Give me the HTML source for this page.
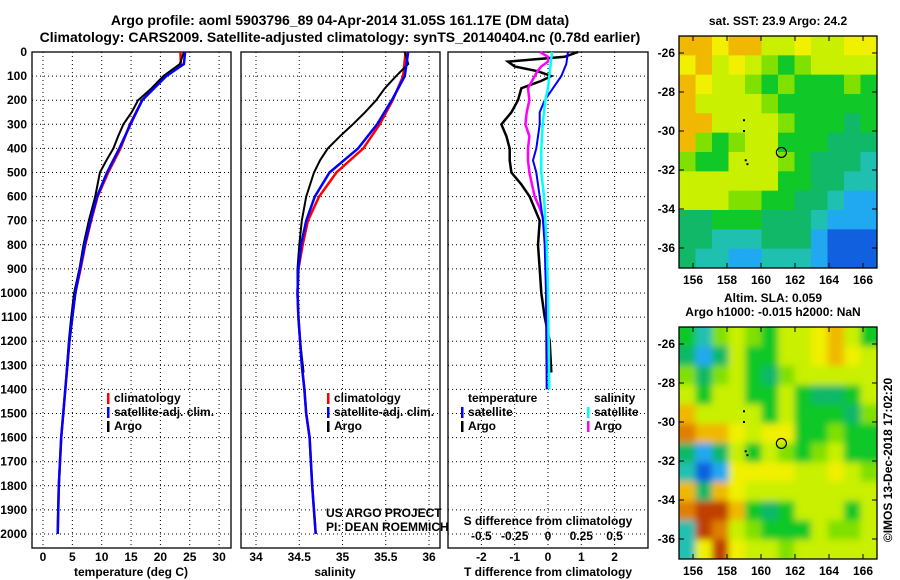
<!DOCTYPE html>
<html><head><meta charset="utf-8">
<style>
html,body{margin:0;padding:0;background:#fff;}
svg{display:block;font-family:"Liberation Sans",sans-serif;}
.b{font-weight:bold;font-size:12px;}
.t{font-weight:bold;font-size:14px;}
</style></head>
<body>
<svg id="s" width="900" height="580" viewBox="0 0 900 580" xmlns="http://www.w3.org/2000/svg">
<text x="340" y="25" text-anchor="middle" class="t">Argo profile: aoml 5903796_89 04-Apr-2014 31.05S 161.17E (DM data)</text>
<text x="340" y="42" text-anchor="middle" class="t">Climatology: CARS2009. Satellite-adjusted climatology: synTS_20140404.nc (0.78d earlier)</text>
<g id="g"></g>
</svg>
<script>
// ---- data ----
const depthTicks=[0,100,200,300,400,500,600,700,800,900,1000,1100,1200,1300,1400,1500,1600,1700,1800,1900,2000];
const tempTicks=[0,5,10,15,20,25,30];
const salTicks=[34,34.5,35,35.5,36];
const tdiffTicks=[-2,-1,0,1,2];
const sdiffTicks=[-0.5,-0.25,0,0.25,0.5];
const sdiffLabels=["-0.5","-0.25","0","0.25","0.5"];
const lonTicks=[156,158,160,162,164,166];
const latTicks=[-26,-28,-30,-32,-34,-36];

const climDepth=[0,50,100,200,300,400,500,600,700,800,900,1000,1200,1400,1600,1800,2000];
const climTemp=[23.4,23.5,20.8,16.9,14.8,13.2,11.1,9.3,8.2,7.2,6.4,5.5,4.5,3.8,3.1,2.7,2.5];
const satTemp=[24.2,24.0,21.0,16.9,14.9,13.0,10.9,9.2,8.1,7.1,6.3,5.5,4.5,3.8,3.1,2.7,2.5];
const salDepth=[0,100,200,300,400,500,600,700,800,900,1000,1100,1200,1300,1400,1500,1600,1800,2000];
const climSal=[35.73,35.70,35.58,35.43,35.24,34.93,34.73,34.60,34.54,34.49,34.48,34.49,34.51,34.53,34.56,34.58,34.62,34.65,34.69];
const satSal=[35.76,35.72,35.57,35.40,35.18,34.85,34.68,34.58,34.52,34.49,34.48,34.49,34.51,34.53,34.56,34.58,34.62,34.65,34.69];
const argoDepth=[0,50,100,150,200,250,300,350,400,450,500,600,700,800,900,1000,1100,1200,1330];
const argoTemp=[24.0,23.3,20.5,18.5,16.2,15.1,13.7,12.8,12.0,10.8,9.7,8.9,7.8,6.9,6.2,5.3,4.8,4.4,4.0];
const argoSal=[35.72,35.76,35.62,35.49,35.39,35.26,35.12,34.97,34.83,34.74,34.67,34.58,34.53,34.50,34.48,34.48,34.49,34.51,34.55];

const tdDepth=[0,20,40,60,80,100,120,150,200,250,300,350,400,450,500,550,600,650,700,800,900,1000,1100,1200,1330];
const tdArgo=[0.9,0.5,-1.2,-1.0,-0.3,0.1,-0.2,-0.8,-0.9,-1.1,-1.4,-1.25,-1.15,-1.15,-1.1,-0.8,-0.55,-0.4,-0.25,-0.3,-0.25,-0.2,-0.1,0.05,0.1];
const sdArgo=[-0.06,0,0,-0.05,-0.08,-0.1,-0.12,-0.15,-0.14,-0.16,-0.17,-0.14,-0.15,-0.15,-0.14,-0.12,-0.1,-0.06,-0.03,-0.02,-0.01,-0.01,0,0,0];
const satDiffDepth=[0,50,100,150,200,250,300,400,450,500,600,700,800,1000,1200,1400];
const tdSat=[0.6,0.55,0.4,0.15,-0.1,-0.25,-0.25,-0.35,-0.45,-0.35,-0.25,-0.15,-0.1,-0.06,-0.05,-0.04];
const sdSat=[0.03,0.02,0.01,0,-0.02,-0.03,-0.04,-0.05,-0.05,-0.05,-0.03,-0.02,-0.01,0,0.005,0.01];

const sstGrid=[
"887886676677","786765456666","876654544454","866665444444","886666544434","854566444333",
"544666543332","666666443322","666554433211","334443332111","332223331000","322112221000"];
const slaGrid=[
"425654667864","313644667876","535643566666","646644643346","866664644435","988767744544",
"313646545644","201777766765","838766666666","9AA843466646","2A9654446556","27A766566666"];
const palette=["#1060e0","#20a8f0","#20c0b0","#10b868","#10c828","#80e000","#c8f000","#f0f000","#f0b800","#e08000","#c04000"];

// ---- helpers ----
const NS="http://www.w3.org/2000/svg";
const G=document.getElementById('g');
function mk(tag,attrs,parent){const e=document.createElementNS(NS,tag);for(const k in attrs)e.setAttribute(k,attrs[k]);(parent||G).appendChild(e);return e;}
const Y0=52,Y1=548;
function yd(d){return Y0+d*0.241;}
function xT(t){return 43+t*5.87;}
function xS(s){return 256+(s-34)*86.5;}
function xTd(t){return 548+t*33.3;}
function xSd(s){return 548+s*133.2;}

function panel(x0,x1,name){
  const r=mk('rect',{x:x0,y:Y0,width:x1-x0,height:Y1-Y0,fill:'none',stroke:'#000','stroke-width':1.3});
  
  
  depthTicks.forEach(d=>{
    const l=mk('line',{x1:x0,x2:x1,y1:yd(d),y2:yd(d),stroke:'#000','stroke-dasharray':'1,3','stroke-width':1});
    
    
  });
}
function vgrid(xs,name){
  xs.forEach(x=>{
    const l=mk('line',{x1:x,x2:x,y1:Y0,y2:Y1,stroke:'#000','stroke-dasharray':'1,3','stroke-width':1});
    
    
  });
}
function text(x,y,s,anchor,cls,name){
  const t=mk('text',{x:x,y:y,'text-anchor':anchor||'middle',class:cls||'b'});t.textContent=s;
  
  
  return t;
}
function line(xs,ys,fx,color,w,name){
  const pts=xs.map((v,i)=>fx(v).toFixed(1)+','+yd(ys[i]).toFixed(1)).join(' ');
  const p=mk('polyline',{points:pts,fill:'none',stroke:color,'stroke-width':w});
  
  
}
function legend(x,y,color,label,name){
  const r=mk('rect',{x:x,y:y-9,width:2.5,height:11,fill:color});
  
  
  text(x+7,y,label,'start','b',name);
}

// ---- panel 1 temperature ----
panel(32,231,'temperature-plot-frame');
vgrid(tempTicks.map(xT),'temperature-gridline');
depthTicks.forEach(d=>text(27,yd(d)+4,String(d),'end','b','depth-tick-label'));
tempTicks.forEach(t=>text(xT(t),561,String(t),'middle','b','temperature-tick-label'));
text(131,576,'temperature (deg C)','middle','b','temperature-axis-title');
line(climTemp,climDepth,xT,'#f00',2.5,'temperature-climatology-line');
line(argoTemp,argoDepth,xT,'#000',2,'temperature-argo-line');
line(satTemp,climDepth,xT,'#00f',2.5,'temperature-satellite-line');
legend(107,402,'#f00','climatology','legend-climatology');
legend(107,416,'#00f','satellite-adj. clim.','legend-satellite');
legend(107,430,'#000','Argo','legend-argo');

// ---- panel 2 salinity ----
panel(241,440,'salinity-plot-frame');
vgrid(salTicks.map(xS),'salinity-gridline');
salTicks.forEach(s=>text(xS(s),561,String(s),'middle','b','salinity-tick-label'));
text(335,576,'salinity','middle','b','salinity-axis-title');
line(climSal,salDepth,xS,'#f00',2.5,'salinity-climatology-line');
line(argoSal,argoDepth,xS,'#000',2,'salinity-argo-line');
line(satSal,salDepth,xS,'#00f',2.5,'salinity-satellite-line');
legend(327,402,'#f00','climatology','legend-climatology-sal');
legend(327,416,'#00f','satellite-adj. clim.','legend-satellite-sal');
legend(327,430,'#000','Argo','legend-argo-sal');
const c1=text(326,517,'US ARGO PROJECT','start','', 'credit-project');c1.setAttribute('font-size','12');
const c2=text(326,531,'PI: DEAN ROEMMICH','start','', 'credit-pi');c2.setAttribute('font-size','12');

// ---- panel 3 differences ----
panel(448,648,'difference-plot-frame');
vgrid(tdiffTicks.map(xTd),'difference-gridline');
tdiffTicks.forEach(t=>text(xTd(t),561,String(t),'middle','b','tdiff-tick-label'));
sdiffTicks.forEach((s,i)=>text(xSd(s),540,sdiffLabels[i],'middle','b','sdiff-tick-label'));
text(548,525,'S difference from climatology','middle','b','sdiff-axis-title');
text(548,576,'T difference from climatology','middle','b','tdiff-axis-title');
line(tdArgo,tdDepth,xTd,'#000',2.5,'tdiff-argo-line');
line(sdArgo,tdDepth,xSd,'#f0f',2.5,'sdiff-argo-line');
line(tdSat,satDiffDepth,xTd,'#00f',2,'tdiff-satellite-line');
line(sdSat,satDiffDepth,xSd,'#0ff',2.5,'sdiff-satellite-line');
text(468,402,'temperature','start','b','legend-temperature-heading');
legend(461,416,'#00f','satellite','legend-tdiff-satellite');
legend(461,430,'#000','Argo','legend-tdiff-argo');
text(594,402,'salinity','start','b','legend-salinity-heading');
legend(587,416,'#0ff','satellite','legend-sdiff-satellite');
legend(587,430,'#f0f','Argo','legend-sdiff-argo');

// ---- maps ----
function mapPanel(top,grid,name,blur){
  const x0=679,x1=877,y0=top,y1=top+232;
  const cols=grid[0].length,rows=grid.length;
  const cw=(x1-x0)/cols,ch=(y1-y0)/rows;
  const clip='clip-'+name;
  const cp=mk('clipPath',{id:clip});mk('rect',{x:x0,y:y0,width:x1-x0,height:y1-y0},cp);
  const g=mk('g',{'clip-path':'url(#'+clip+')'});
  
  
  const inner=mk('g',blur?{filter:'url(#bl)'}:{},g);
  grid.forEach((row,r)=>{for(let c=0;c<cols;c++){
    const v=parseInt(row[c],16);
    const ex=blur?(c===0?-10:0):0, ey=blur?(r===0?-10:0):0;
    const cell=mk('rect',{x:x0+c*cw+ex,y:y0+r*ch+ey,width:cw+0.5-ex+(blur&&c===cols-1?10:0),height:ch+0.5-ey+(blur&&r===rows-1?10:0),fill:palette[v]},inner);
    
    
  }});
  const lonX=l=>693+(l-156)*17;
  const fr=mk('rect',{x:x0,y:y0,width:x1-x0,height:y1-y0,fill:'none',stroke:'#000','stroke-width':1.3});
  
  
  lonTicks.forEach(l=>{mk('line',{x1:lonX(l),x2:lonX(l),y1:y1,y2:y1-5,stroke:'#000'});mk('line',{x1:lonX(l),x2:lonX(l),y1:y0,y2:y0+5,stroke:'#000'});
    text(lonX(l),y1+16,String(l),'middle','b','longitude-tick-label');});
  latTicks.forEach(l=>{const y=y0+17+(-26-l)*19.5;mk('line',{x1:x0,x2:x0+5,y1:y,y2:y,stroke:'#000'});mk('line',{x1:x1,x2:x1-5,y1:y,y2:y,stroke:'#000'});
    text(x0-4,y+4,String(l),'end','b','latitude-tick-label');});
  const cx=lonX(161.2),cy=y0+17+(31.1-26)*19.5;
  const ci=mk('circle',{cx:cx,cy:cy,r:5,fill:'none',stroke:'#000','stroke-width':1.2});
  
  
  [[159,-29.45],[159,-30],[159.1,-31.5],[159.2,-31.7]].forEach(p=>{
    const d=mk('rect',{x:lonX(p[0])-1,y:y0+17+(-26-p[1])*19.5-1,width:2,height:2,fill:'#000'});
    
    
  });
}
const defs=mk('defs',{});const f=mk('filter',{id:'bl',x:'-5%',y:'-5%',width:'110%',height:'110%'},defs);mk('feGaussianBlur',{stdDeviation:3.5},f);
mapPanel(36,sstGrid,'sst-map',false);
mapPanel(327,slaGrid,'sla-map',true);
text(778,25,'sat. SST: 23.9 Argo: 24.2','middle','b','sst-map-title');
text(773,302,'Altim. SLA: 0.059','middle','b','sla-map-title');
text(773,316,'Argo h1000: -0.015 h2000: NaN','middle','b','argo-height-label');
const cr=text(0,0,'©IMOS 13-Dec-2018 17:02:20','middle','', 'timestamp');
cr.setAttribute('font-size','12');
cr.setAttribute('transform','translate(892,460) rotate(-90)');
</script>
</body></html>
